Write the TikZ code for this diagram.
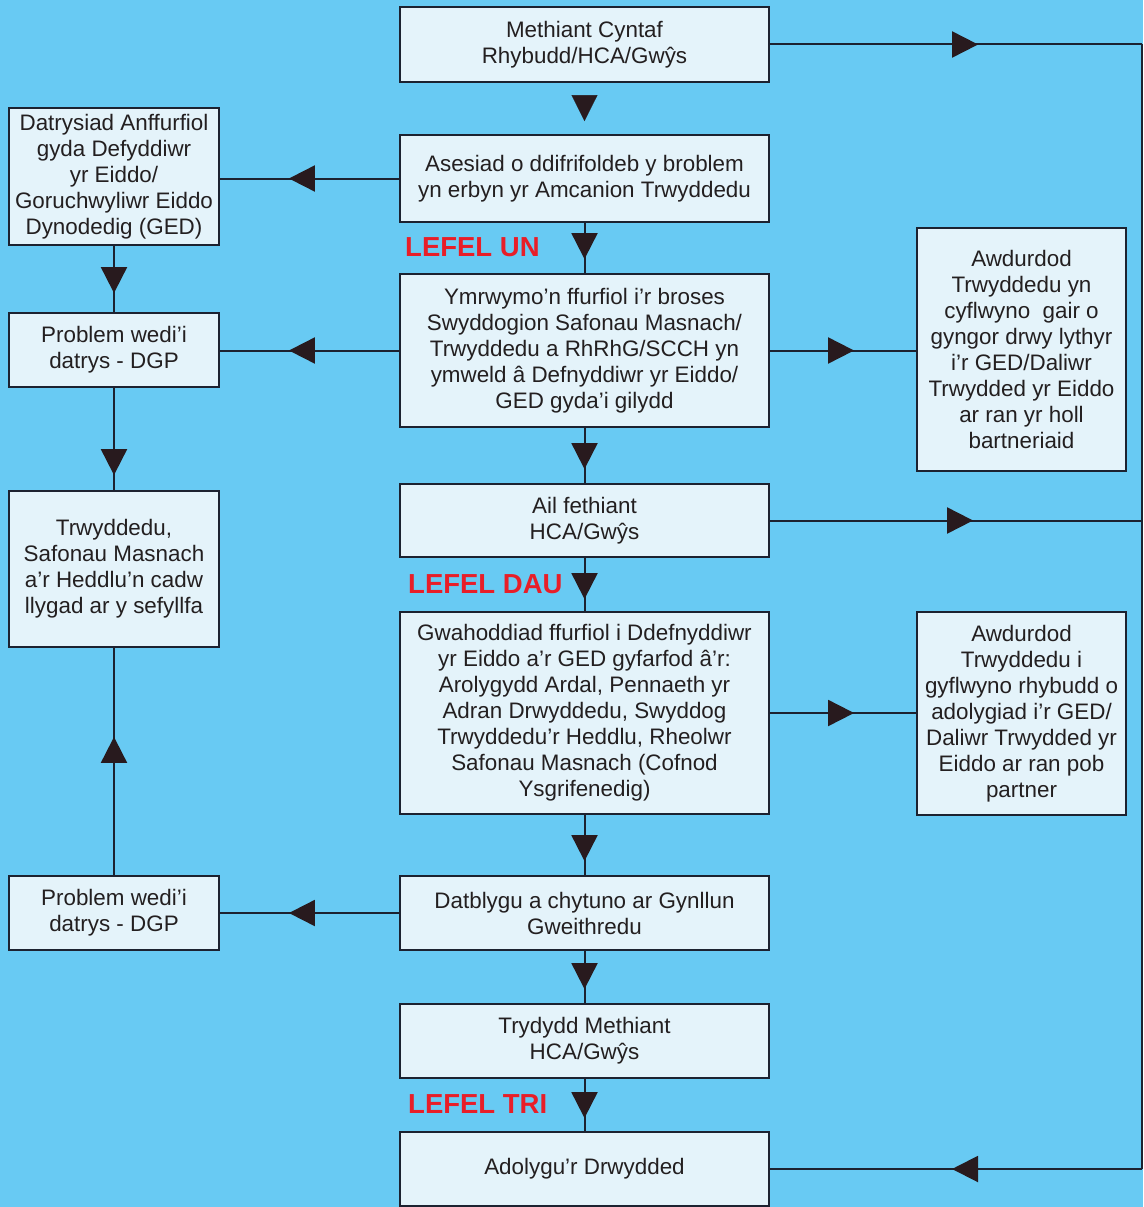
\documentclass[tikz,border=0pt]{standalone}
\usepackage{fontspec}
\setmainfont{Liberation Sans}
\usetikzlibrary{arrows.meta,decorations.markings}
\definecolor{bgc}{RGB}{104,202,243}
\definecolor{boxc}{RGB}{228,243,250}
\definecolor{linec}{RGB}{28,34,48}
\definecolor{tric}{RGB}{40,26,30}
\definecolor{txtc}{RGB}{35,31,32}
\definecolor{lvl}{RGB}{232,30,40}
\tikzset{
  box/.style={draw=linec, line width=2.2pt, fill=boxc, align=center, inner sep=0pt,
    text=txtc, font=\fontsize{22.4}{26}\selectfont},
  cbox/.style={box, minimum width=369pt},
  lbox/.style={box, minimum width=210pt},
  rbox/.style={box, minimum width=209pt},
  flow/.style={draw=linec, line width=2pt},
  tipat/.style={postaction={decorate,decoration={markings,
     mark=at position #1 with {\arrow{Triangle[width=26pt,length=26pt,color=tric]}}}}},
  level/.style={anchor=west, text=lvl, inner sep=0pt, font=\fontsize{27.5}{30}\selectfont\bfseries},
}
\begin{document}
\begin{tikzpicture}[x=1pt,y=-1pt]
\useasboundingbox (0,0) rectangle (1143,1207);
\fill[bgc] (0,0) rectangle (1143,1207);

% centre column
\node[cbox, minimum height=75pt] (b1) at (584.5,44.5) {Methiant Cyntaf\\Rhybudd/HCA/Gwŷs};
\node[cbox, minimum height=87pt] (b2) at (584.5,178.5) {Asesiad o ddifrifoldeb y broblem\\yn erbyn yr Amcanion Trwyddedu};
\node[cbox, minimum height=153pt] (b3) at (584.5,350.5) {Ymrwymo’n ffurfiol i’r broses\\Swyddogion Safonau Masnach/\\Trwyddedu a RhRhG/SCCH yn\\ymweld â Defnyddiwr yr Eiddo/\\GED gyda’i gilydd};
\node[cbox, minimum height=73pt] (b4) at (584.5,520.5) {Ail fethiant\\HCA/Gwŷs};
\node[cbox, minimum height=202pt] (b5) at (584.5,713) {Gwahoddiad ffurfiol i Ddefnyddiwr\\yr Eiddo a’r GED gyfarfod â’r:\\Arolygydd Ardal, Pennaeth yr\\Adran Drwyddedu, Swyddog\\Trwyddedu’r Heddlu, Rheolwr\\Safonau Masnach (Cofnod\\Ysgrifenedig)};
\node[cbox, minimum height=74pt] (b6) at (584.5,913) {Datblygu a chytuno ar Gynllun\\Gweithredu};
\node[cbox, minimum height=74pt] (b7) at (584.5,1041) {Trydydd Methiant\\HCA/Gwŷs};
\node[cbox, minimum height=74pt] (b8) at (584.5,1169) {Adolygu’r Drwydded};

% left column
\node[lbox, minimum height=137pt] (l1) at (114,176.5) {Datrysiad Anffurfiol\\gyda Defyddiwr\\yr Eiddo/\\Goruchwyliwr Eiddo\\Dynodedig (GED)};
\node[lbox, minimum height=74pt] (l2) at (114,350) {Problem wedi’i\\datrys - DGP};
\node[lbox, minimum height=156pt] (l3) at (114,569) {Trwyddedu,\\Safonau Masnach\\a’r Heddlu’n cadw\\llygad ar y sefyllfa};
\node[lbox, minimum height=74pt] (l4) at (114,913) {Problem wedi’i\\datrys - DGP};

% right column
\node[rbox, minimum height=243pt] (r1) at (1021.5,349.5) {Awdurdod\\Trwyddedu yn\\cyflwyno~ gair o\\gyngor drwy lythyr\\i’r GED/Daliwr\\Trwydded yr Eiddo\\ar ran yr holl\\bartneriaid};
\node[rbox, minimum height=203pt] (r2) at (1021.5,713.5) {Awdurdod\\Trwyddedu i\\gyflwyno rhybudd o\\adolygiad i’r GED/\\Daliwr Trwydded yr\\Eiddo ar ran pob\\partner};

% level labels
\node[level] (lv1) at (405,247) {LEFEL UN};
\node[level] (lv2) at (408,584) {LEFEL DAU};
\node[level] (lv3) at (408,1104) {LEFEL TRI};

% centre connectors
\path[tipat=38pt] (b1) -- (b2);
\draw[flow, tipat=36pt] (b2) -- (b3);
\draw[flow, tipat=41pt] (b3) -- (b4);
\draw[flow, tipat=41pt] (b4) -- (b5);
\draw[flow, tipat=46pt] (b5) -- (b6);
\draw[flow, tipat=38pt] (b6) -- (b7);
\draw[flow, tipat=39pt] (b7) -- (b8);

% left connectors
\draw[flow, tipat=110pt] (b2.west) -- (l1.east |- b2.west);
\draw[flow, tipat=110pt] (b3.west) -- (l2.east |- b3.west);
\draw[flow, tipat=110pt] (b6.west) -- (l4.east |- b6.west);
\draw[flow, tipat=47pt] (l1) -- (l2);
\draw[flow, tipat=87pt] (l2) -- (l3);
\draw[flow, tipat=138pt] (l4) -- (l3);

% right connectors
\draw[flow, tipat=84pt] (b3.east) -- (r1.west |- b3.east);
\draw[flow, tipat=84pt] (b5.east) -- (r2.west |- b5.east);

% loop
\coordinate (ctop) at (1142,44.5);
\coordinate (cbot) at (1142,1169);
\draw[flow, tipat=208pt] (b1.east) -- (ctop);
\draw[flow, tipat=203pt] (b4.east) -- (b4.east -| ctop);
\draw[flow] (ctop) -- (cbot);
\draw[flow, tipat=190pt] (cbot) -- (b8.east);
\end{tikzpicture}
\end{document}
